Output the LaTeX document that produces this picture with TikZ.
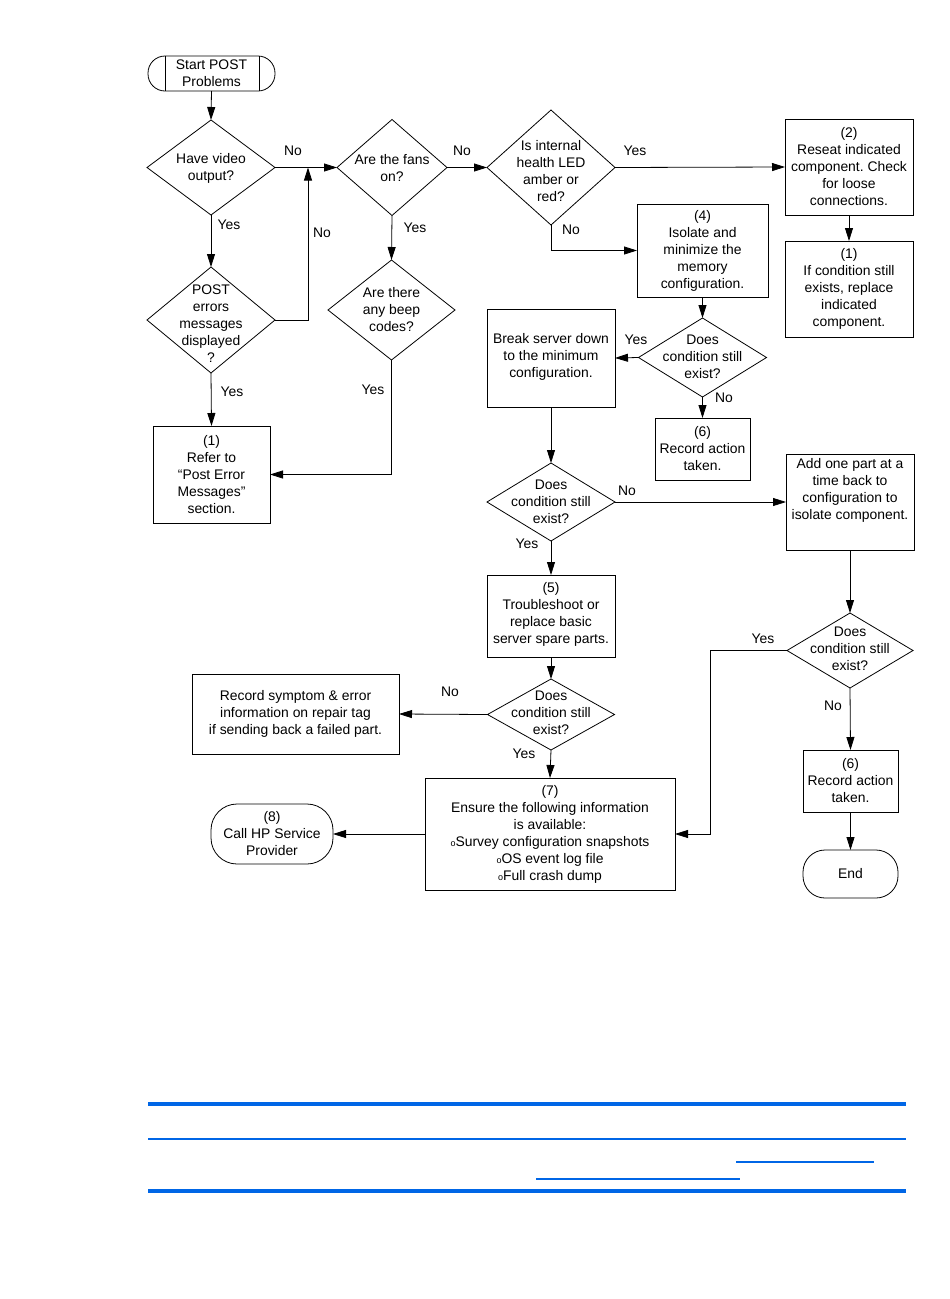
\documentclass[tikz,border=0pt]{standalone}
\usepackage{fontspec}
\setmainfont{Liberation Sans}
\usetikzlibrary{shapes.geometric,arrows.meta}
\definecolor{hpblue}{RGB}{0,102,230}
\frenchspacing
\newcommand{\fs}{\fontsize{13.9}{17}\selectfont}
\newcommand{\bul}{{\fontsize{9}{9}\selectfont o}}
\tikzset{
  box/.style={draw, line width=0.8pt, inner sep=0pt, outer sep=0pt, align=center, font=\fs},
  dia/.style={draw, diamond, line width=0.8pt, inner sep=0pt, outer sep=0pt},
  term/.style={box, rounded corners=#1},
  txt/.style={align=center, font=\fs, inner sep=0pt},
  lbl/.style={font=\fs, inner sep=0pt},
  arr/.style={line width=0.8pt, -{Triangle[length=13pt,width=8pt]}},
  ln/.style={line width=0.8pt},
}
\begin{document}
\begin{tikzpicture}[x=1pt,y=-1pt]
\useasboundingbox[fill=white] (0,0) rectangle (950,1299);

% terminals
\node[term=17pt, minimum width=127pt, minimum height=35pt] (start) at (211.5,73.5) {Start POST\\Problems};
\draw[ln] ([xshift=17pt]start.north west) -- ([xshift=17pt]start.south west);
\draw[ln] ([xshift=-16pt]start.north east) -- ([xshift=-16pt]start.south east);
\node[term=26pt, minimum width=122pt, minimum height=60pt] (t8) at (272,834) {(8)\\Call HP Service\\Provider};
\node[term=22pt, minimum width=95pt, minimum height=48pt] (tend) at (850.5,874) {End};

% diamonds
\node[dia, minimum width=128pt, minimum height=95pt] (d1) at (211,167.5) {};
\node[txt] (d1t) at (211,168) {Have video\\output?};
\node[dia, minimum width=110pt, minimum height=96pt] (d2) at (392,167.5) {};
\node[txt] (d2t) at (392,168) {Are the fans\\on?};
\node[dia, minimum width=128pt, minimum height=106pt] (d3) at (211,320) {};
\node[txt] (d3t) at (211,324) {POST\\errors\\messages\\displayed\\?};
\node[dia, minimum width=127pt, minimum height=100pt] (d4) at (391.5,310) {};
\node[txt] (d4t) at (391.5,310) {Are there\\any beep\\codes?};
\node[dia, minimum width=128pt, minimum height=115pt] (d5) at (551,167.5) {};
\node[txt] (d5t) at (551,171.5) {Is internal\\health LED\\amber or\\red?};
\node[dia, minimum width=128pt, minimum height=79pt] (d6) at (702.5,357.5) {};
\node[txt] (d6t) at (702.5,357) {Does\\condition still\\exist?};
\node[dia, minimum width=128pt, minimum height=78pt] (d7) at (551,502) {};
\node[txt] (d7t) at (551,502) {Does\\condition still\\exist?};
\node[dia, minimum width=127pt, minimum height=71pt] (d8) at (551,714.5) {};
\node[txt] (d8t) at (551,713) {Does\\condition still\\exist?};
\node[dia, minimum width=126pt, minimum height=75pt] (d9) at (850,650.5) {};
\node[txt] (d9t) at (850,648.5) {Does\\condition still\\exist?};

% boxes
\node[box, minimum width=117pt, minimum height=97pt] (b1) at (211.5,474.5) {(1)\\Refer to\\“Post Error\\Messages”\\section.};
\node[box, minimum width=128pt, minimum height=96pt] (b2) at (849,167) {(2)\\Reseat indicated\\component. Check\\for loose\\connections.};
\node[box, minimum width=128pt, minimum height=96pt] (bA) at (849,289) {(1)\\If condition still\\exists, replace\\indicated\\component.};
\node[box, minimum width=131pt, minimum height=93pt] (b4) at (702.5,250.5) {(4)\\Isolate and\\minimize the\\memory\\configuration.};
\node[box, minimum width=128pt, minimum height=98pt] (b5) at (551,358) {};
\node[txt] (b5t) at (551,357) {Break server down\\to the minimum\\configuration.};
\node[box, minimum width=95pt, minimum height=62pt] (b6) at (702.5,449) {(6)\\Record action\\taken.};
\node[box, minimum width=128pt, minimum height=96pt] (b7) at (850,502) {};
\node[txt] (b7t) at (850,490) {Add one part at a\\time back to\\configuration to\\isolate component.};
\node[box, minimum width=128pt, minimum height=82pt] (b8) at (551,616) {};
\node[txt] (b8t) at (551,614) {(5)\\Troubleshoot or\\replace basic\\server spare parts.};
\node[box, minimum width=207pt, minimum height=80pt] (b9) at (295.5,714) {Record symptom \& error\\information on repair tag\\if sending back a failed part.};
\node[box, minimum width=250pt, minimum height=112pt] (b10) at (550,834) {(7)\\Ensure the following information\\is available:\\\bul Survey configuration snapshots\\\bul OS event log file\\\bul Full crash dump};
\node[box, minimum width=95pt, minimum height=62pt] (b11) at (850.5,781) {(6)\\Record action\\taken.};

% helper coordinates
\coordinate (j1) at (308,167.5);
\coordinate (j2) at (710,650.5);

% connectors
\draw[arr] (start.south) -- (d1.north);
\draw[arr] (d1.east) -- (d2.west);
\draw[arr] (d1.south) -- (d3.north);
\draw[arr] (d3.east) -| (j1);
\draw[arr] (d3.south) -- (b1.north);
\draw[arr] (d2.south) -- (d4.north);
\draw[arr] (d4.south) |- (b1.east);
\draw[arr] (d2.east) -- (d5.west);
\draw[arr] (d5.east) -- (b2.west);
\draw[arr] (b2.south) -- (bA.north);
\draw[arr] (d5.south) |- (b4.west);
\draw[arr] (b4.south) -- (d6.north);
\draw[arr] (d6.west) -- (b5.east);
\draw[arr] (d6.south) -- (b6.north);
\draw[arr] (b5.south) -- (d7.north);
\draw[arr] (d7.east) -- (b7.west);
\draw[arr] (d7.south) -- (b8.north);
\draw[arr] (b8.south) -- (d8.north);
\draw[arr] (d8.west) -- (b9.east);
\draw[arr] (d8.south) -- (b10.north);
\draw[arr] (b10.west) -- (t8.east);
\draw[arr] (b7.south) -- (d9.north);
\draw[arr] (d9.west) -- (j2) |- (b10.east);
\draw[arr] (d9.south) -- (b11.north);
\draw[arr] (b11.south) -- (tend.north);

% branch labels
\node[lbl] (l1) at (293,151) {No};
\node[lbl] (l2) at (322,233) {No};
\node[lbl] (l3) at (229,225) {Yes};
\node[lbl] (l4) at (232,392) {Yes};
\node[lbl] (l5) at (415,228) {Yes};
\node[lbl] (l6) at (373,390) {Yes};
\node[lbl] (l7) at (462,151) {No};
\node[lbl] (l8) at (635,151) {Yes};
\node[lbl] (l9) at (571,230) {No};
\node[lbl] (l10) at (636,340) {Yes};
\node[lbl] (l11) at (724,398) {No};
\node[lbl] (l12) at (627,491) {No};
\node[lbl] (l13) at (527,544) {Yes};
\node[lbl] (l14) at (450,692) {No};
\node[lbl] (l15) at (524,754) {Yes};
\node[lbl] (l16) at (763,639) {Yes};
\node[lbl] (l17) at (833,706) {No};

% blue rules at the bottom
\draw[hpblue, line width=4pt] (148,1104) -- (906,1104);
\draw[hpblue, line width=2pt] (148,1139) -- (906,1139);
\draw[hpblue, line width=4pt] (148,1191) -- (906,1191);
\draw[hpblue, line width=1.3pt] (736,1162) -- (874,1162);
\draw[hpblue, line width=1.3pt] (536,1179) -- (740,1179);
\end{tikzpicture}
\end{document}
